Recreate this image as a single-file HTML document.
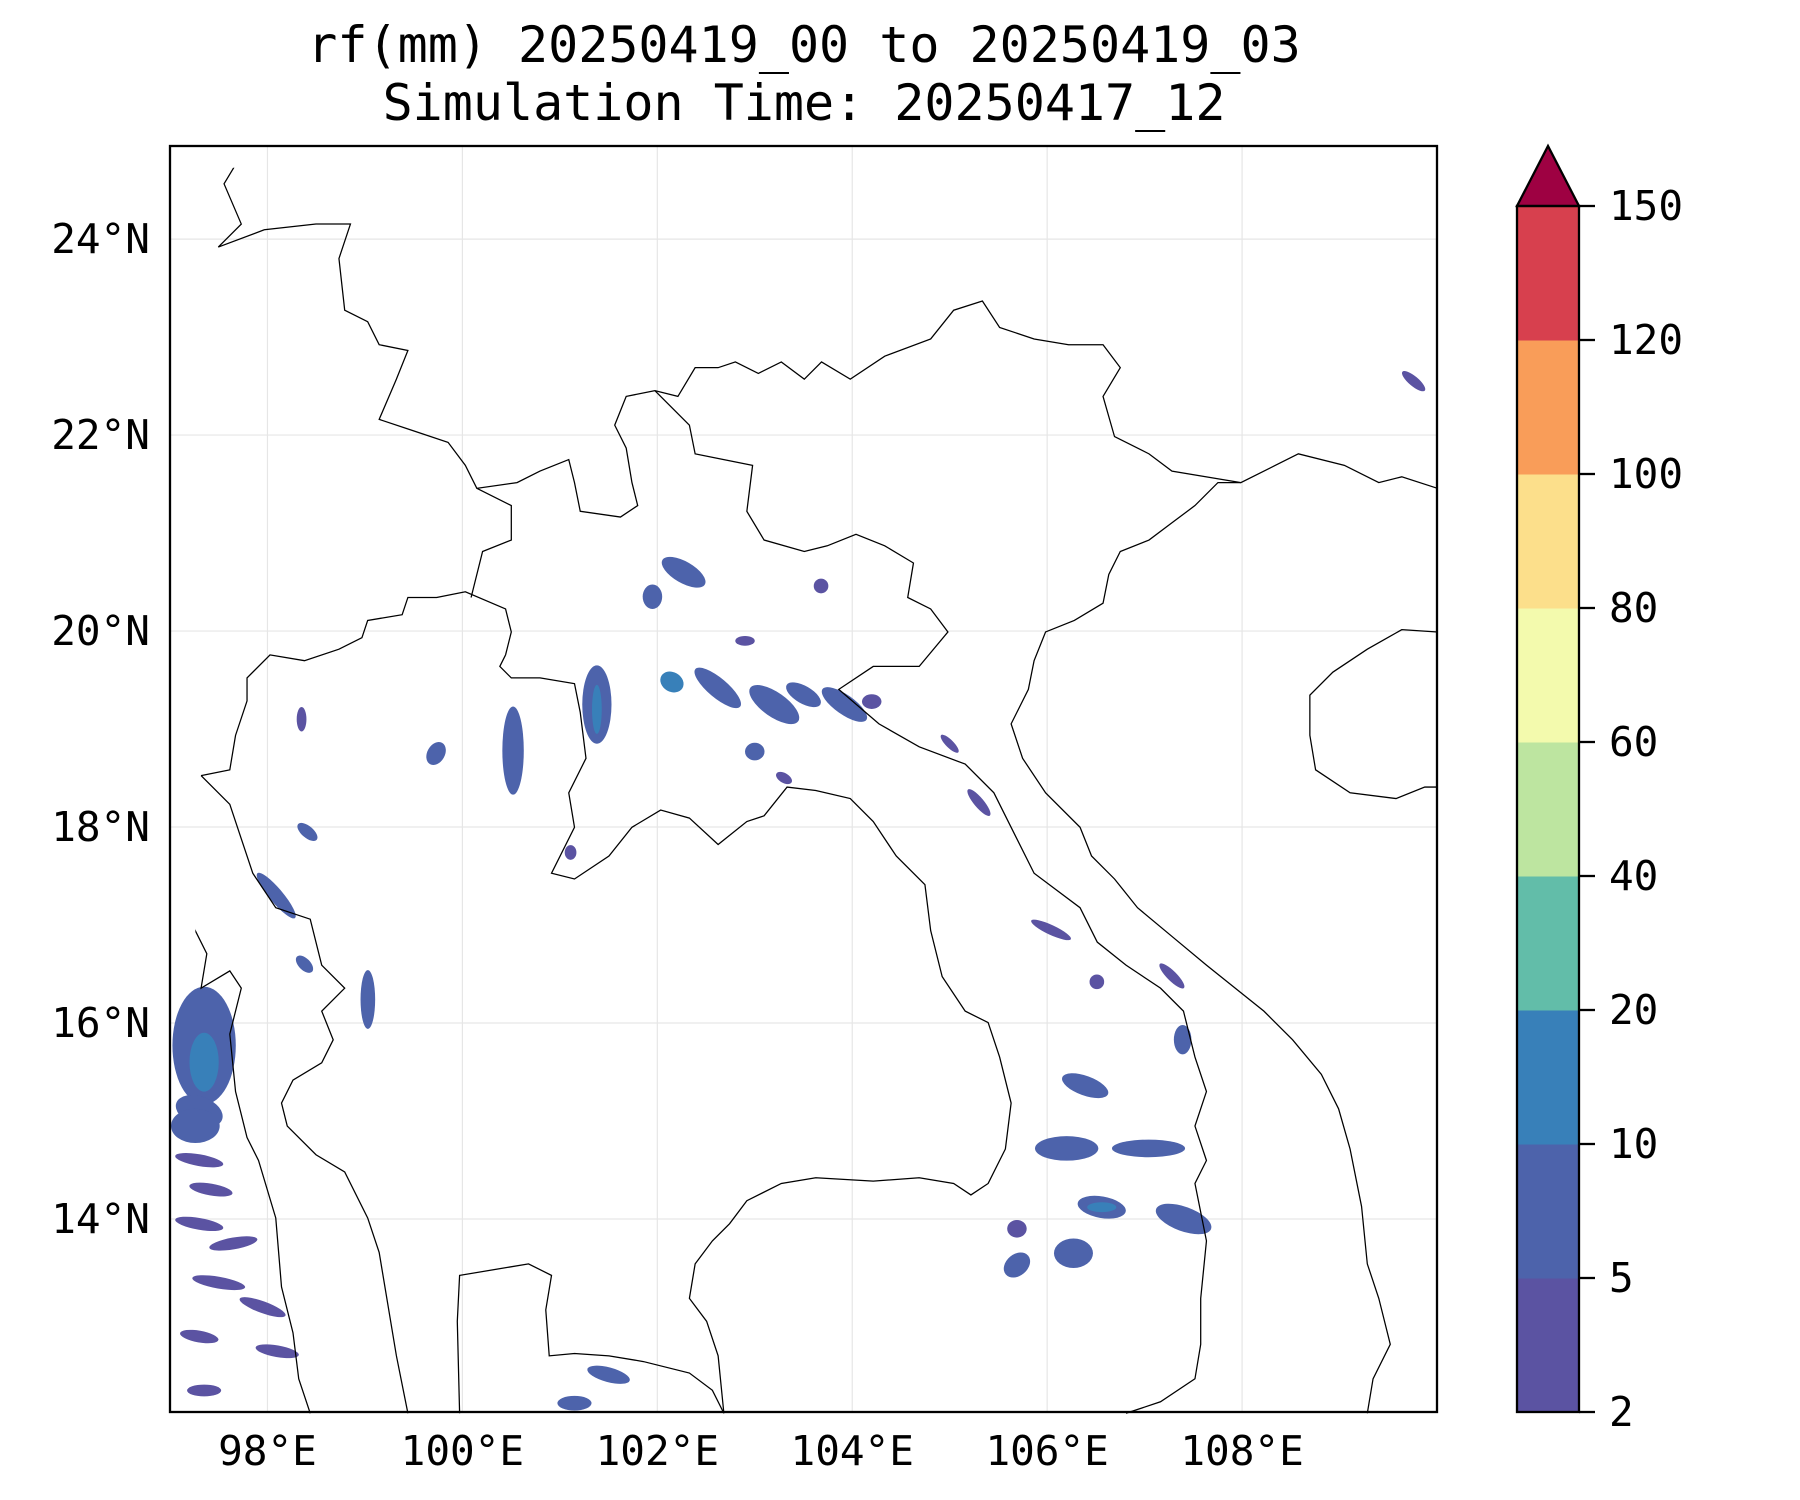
<!DOCTYPE html>
<html><head><meta charset="utf-8"><style>
html,body{margin:0;padding:0;background:#fff}
svg{display:block;font-family:"DejaVu Sans Mono","Liberation Mono",monospace}
</style></head><body>
<svg id="chart" width="1800" height="1500" viewBox="0 0 1800 1500" xmlns="http://www.w3.org/2000/svg">
<text x="804" y="62" font-size="50" text-anchor="middle">rf(mm) 20250419_00 to 20250419_03</text>
<text x="804" y="120" font-size="50" text-anchor="middle">Simulation Time: 20250417_12</text>
<defs><clipPath id="mapclip"><rect x="170" y="146" width="1267" height="1266"/></clipPath></defs>
<g id="grid"></g>
<g id="rain" clip-path="url(#mapclip)"></g>
<g clip-path="url(#mapclip)" transform="scale(1.149)" fill="none" stroke="#000" stroke-width="1.1">
<path d="M1251,425 L1220,415 L1200,420 L1170,405 L1130,395 L1110,405 L1080,420 L1060,420 L1040,440 L1020,455 L1000,470 L975,480 L965,500 L960,525 L935,540 L910,550 L900,575 L895,600 L880,630 L890,660 L910,690 L940,720 L950,745 L970,765 L990,790 L1020,815 L1050,840 L1075,860 L1100,880 L1125,905 L1150,935 L1165,965 L1175,1000 L1185,1050 L1190,1100 L1200,1130 L1210,1170 L1195,1200 L1190,1230"/>
<path d="M1251,550 L1220,548 L1190,565 L1160,585 L1140,605 L1140,640 L1145,670 L1175,690 L1215,695 L1240,685 L1251,685"/>
<path d="M355,1230 L345,1180 L330,1090 L320,1060 L300,1020 L275,1005 L250,980 L245,960 L255,940 L280,925 L290,905 L280,880 L300,860 L280,840 L270,800 L240,790 L220,760 L210,730 L200,700 L180,680 L175,675 M400,1230 L398,1150 L400,1110 L430,1105 L460,1100 L480,1110 L475,1140 L478,1180 L500,1178 L530,1180 L560,1185 L600,1195 L620,1210 L630,1230"/>
<path d="M148,785 L165,800 L180,830 L175,860 L200,845 L210,860 L200,900 L205,950 L215,990 L225,1010 L240,1060 L245,1120 L255,1160 L260,1200 L270,1230"/>
<path d="M190,130 L210,135 L195,160 L210,195 L190,215 L230,200 L275,195 L305,195 L295,225 L300,270 L320,280 L330,300 L355,305 L345,330 L330,365 L360,375 L390,385 L405,405 L415,425 L450,420 L470,410 L495,400 L500,420 L505,445 L540,450 L555,440 L550,420 L545,390 L535,370 L545,345 L570,340 L590,345 L605,320 L625,320 L640,315 L660,325 L680,315 L700,330 L715,315 L740,330 L770,310 L810,295 L830,270 L855,262 L870,285 L900,295 L930,300 L960,300 L975,320 L960,345 L970,380 L1000,395 L1020,410 L1050,415 L1080,420"/>
<path d="M570,340 L600,370 L605,395 L630,400 L655,405 L650,445 L665,470 L700,480 L720,475 L745,465 L770,475 L795,490 L790,520 L810,530 L825,550 L800,580 L760,580 L730,600 L765,630 L800,650 L840,665 L865,690 L880,720 L900,760 L940,790 L955,820 L980,840 L1010,860 L1030,880 L1040,920 L1050,950 L1040,980 L1050,1010 L1040,1030 L1050,1080 L1045,1130 L1045,1170 L1040,1200 L1010,1220 L980,1230"/>
<path d="M440,570 L435,580 L445,590 L470,590 L500,595 L505,620 L510,660 L495,690 L500,720 L480,760 L500,765 L530,745 L550,720 L575,705 L600,712 L625,735 L650,715 L665,710 L685,685 L710,688 L740,695 L760,715 L780,745 L805,770 L810,810 L820,850 L840,880 L860,890 L870,920 L880,960 L875,1000 L860,1030 L845,1040 L830,1030 L800,1025 L760,1028 L710,1025 L680,1030 L650,1045 L635,1065 L620,1080 L605,1100 L600,1130 L615,1150 L625,1180 L630,1230"/>
<path d="M175,675 L200,670 L205,640 L215,610 L215,590 L235,570 L265,575 L295,565 L315,555 L320,540 L350,535 L355,520 L380,520 L405,515 L440,530 L445,550 L440,570"/>
<path d="M415,425 L445,440 L445,470 L420,480 L410,520"/>
</g>
<rect x="170" y="146" width="1267" height="1266" fill="none" stroke="#000" stroke-width="2.3"/>
<g id="axes"></g>
<g id="cbar"></g>
</svg>
<script>
const lonTicks=[98,100,102,104,106,108];
const latTicks=[14,16,18,20,22,24];
const levels=[2,5,10,20,40,60,80,100,120,150];
const levelColors=["#5b53a2","#4d63ab","#3880b9","#62bda9","#bde5a0","#f3faad","#fcdf8b","#f99d59","#d7404e"];
const extendColor="#9e0142";
const cellLon=[101.38,101.38,100.52,102.27,101.95,102.62,102.15,103.2,103.92,103.5,99.73,103.0,98.41,98.09,98.38,99.03,97.35,97.35,97.3,97.26,97.3,97.42,97.3,97.65,97.5,97.95,97.3,98.1,97.35,106.39,106.2,107.04,106.56,106.56,107.4,106.27,105.69,105.69,107.39,106.04,106.51,107.28,101.5,101.15,109.76,103.68,104.2,105.3,101.11,102.9,105.0,103.3,98.35];
const cellLat=[19.25,19.2,18.78,20.6,20.35,19.42,19.48,19.25,19.25,19.35,18.75,18.77,17.95,17.3,16.6,16.24,15.77,15.6,15.1,14.95,14.6,14.3,13.95,13.75,13.35,13.1,12.8,12.65,12.25,15.36,14.72,14.72,14.12,14.12,14.0,13.65,13.53,13.9,15.83,16.95,16.42,16.48,12.41,12.12,22.55,20.46,19.28,18.25,17.74,19.9,18.85,18.5,19.1];
const cellW=[0.3,0.1,0.22,0.22,0.2,0.6,0.25,0.6,0.55,0.4,0.18,0.2,0.25,0.6,0.22,0.15,0.65,0.3,0.5,0.5,0.5,0.45,0.5,0.5,0.55,0.5,0.4,0.45,0.35,0.5,0.65,0.75,0.5,0.3,0.6,0.4,0.3,0.2,0.18,0.45,0.15,0.35,0.45,0.35,0.3,0.15,0.2,0.35,0.12,0.2,0.25,0.18,0.1];
const cellH=[0.8,0.5,0.9,0.5,0.25,0.2,0.2,0.25,0.2,0.18,0.25,0.18,0.12,0.14,0.12,0.6,1.2,0.6,0.3,0.35,0.12,0.12,0.12,0.12,0.12,0.12,0.12,0.12,0.12,0.2,0.25,0.18,0.22,0.1,0.25,0.3,0.22,0.18,0.3,0.1,0.15,0.1,0.15,0.15,0.1,0.15,0.15,0.1,0.15,0.1,0.08,0.1,0.25];
const cellAng=[0,0,0,-60,0,40,30,35,35,30,30,0,40,50,45,0,0,0,20,0,10,10,10,-10,10,20,10,10,0,20,0,0,10,0,20,0,-40,0,0,25,0,45,15,0,40,0,0,50,0,0,45,30,0];
const cellVal=[8,15,7,6,8,6,12,6,6,7,6,6,6,6,6,6,7,15,7,7,4,4,4,4,4,4,4,4,4,6,8,8,8,12,8,8,6,4,6,4,4,4,6,6,4,4,4,4,4,4,4,4,4];
const NS="http://www.w3.org/2000/svg";
const X0=170,X1=1437,Y0=146,Y1=1412,LON0=97,LON1=110,LAT0=12.03,LAT1=24.95;
function xs(lon){return X0+(lon-LON0)/(LON1-LON0)*(X1-X0);}
function ys(lat){return Y1-(lat-LAT0)/(LAT1-LAT0)*(Y1-Y0);}
function mk(t,a,p){const e=document.createElementNS(NS,t);for(const k in a)e.setAttribute(k,a[k]);p.appendChild(e);return e;}
function colorFor(v){for(let i=0;i<levels.length-1;i++){if(v<levels[i+1])return levelColors[i];}return extendColor;}
const grid=document.getElementById('grid'),axes=document.getElementById('axes'),rain=document.getElementById('rain'),cbar=document.getElementById('cbar');
lonTicks.forEach(l=>{
 const g=mk('line',{x1:xs(l),x2:xs(l),y1:Y0,y2:Y1,stroke:'#e6e6e6','stroke-width':1.2},grid);
 
 
 const t=mk('text',{x:xs(l),y:1465,'font-size':41,'text-anchor':'middle'},axes);
 t.textContent=l+'°E';
 
 
});
latTicks.forEach(l=>{
 const g=mk('line',{x1:X0,x2:X1,y1:ys(l),y2:ys(l),stroke:'#e6e6e6','stroke-width':1.2},grid);
 
 
 const t=mk('text',{x:150,y:ys(l)+14,'font-size':41,'text-anchor':'end'},axes);
 t.textContent=l+'°N';
 
 
});
for(let i=0;i<cellLon.length;i++){
 const cx=xs(cellLon[i]),cy=ys(cellLat[i]);
 const rx=(cellW[i]/2)*(X1-X0)/(LON1-LON0),ry=(cellH[i]/2)*(Y1-Y0)/(LAT1-LAT0);
 const e=mk('ellipse',{cx:cx,cy:cy,rx:rx,ry:ry,fill:colorFor(cellVal[i]),transform:'rotate('+cellAng[i]+' '+cx+' '+cy+')'},rain);
 
 
}
const CX=1517,CW=62,CT=206,CB=1412,n=levels.length-1,step=(CB-CT)/n;
for(let i=0;i<n;i++){
 const r=mk('rect',{x:CX,y:CB-(i+1)*step,width:CW,height:step+0.5,fill:levelColors[i]},cbar);
 
 
}
const tri=mk('polygon',{points:CX+','+CT+' '+(CX+CW)+','+CT+' '+(CX+CW/2)+','+(CT-60),fill:extendColor,stroke:'#000','stroke-width':2.3},cbar);


const fr=mk('rect',{x:CX,y:CT,width:CW,height:CB-CT,fill:'none',stroke:'#000','stroke-width':2.3},cbar);


levels.forEach((v,i)=>{
 const y=CB-i*step;
 mk('line',{x1:CX+CW,x2:CX+CW+16,y1:y,y2:y,stroke:'#000','stroke-width':2.3},cbar);
 const t=mk('text',{x:CX+CW+30,y:y+14,'font-size':41},cbar);
 t.textContent=v;
 
 
});
</script>
</body></html>
